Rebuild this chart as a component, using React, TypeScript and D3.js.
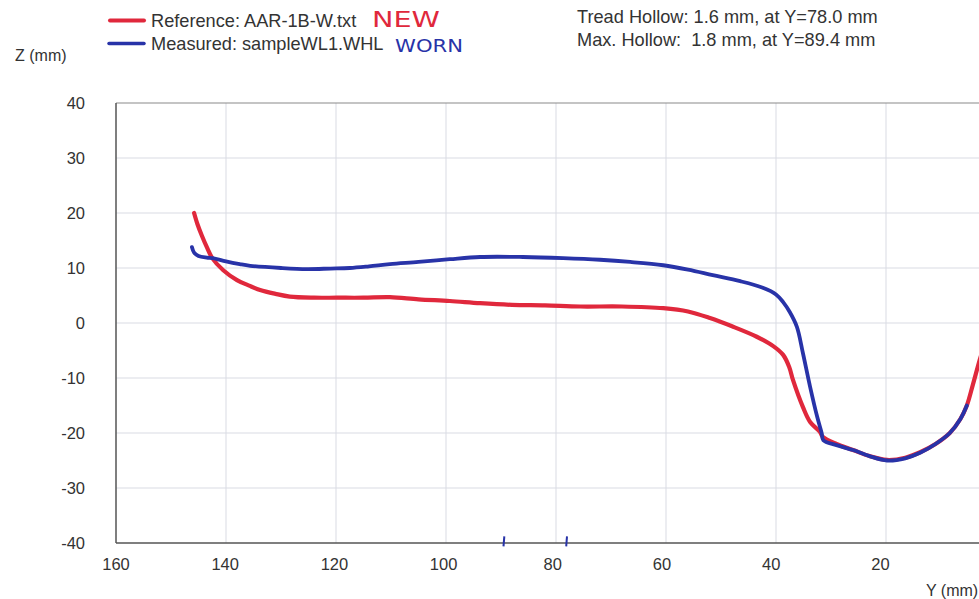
import React from "react";
import * as d3 from "d3";

// Wheel profile cross-section: lateral position Y (mm) vs height Z (mm)
const referenceProfile: [number, number][] = [
  [145.8, 20], [145.2, 18.0], [144.4, 15.9], [143.4, 13.6], [142.5, 11.8], [140.5, 9.6],
  [138, 7.8], [135.8, 6.8], [133.8, 6.0], [131, 5.3], [128.4, 4.8], [124, 4.6],
  [119.8, 4.6], [115, 4.6], [110.2, 4.7], [105, 4.3], [99.3, 4.0], [93.8, 3.6],
  [88, 3.3], [82, 3.2], [75.6, 3.0], [68, 3.0], [60.5, 2.7], [56, 2.1], [52, 0.9],
  [48, -0.6], [43.5, -2.5], [40.5, -4.2], [38.7, -5.8], [37.6, -8], [36.9, -10.4],
  [35.1, -15.3], [33.8, -18], [32, -19.8], [31.5, -20.7], [29, -22], [26, -23.1],
  [23, -24.2], [19.8, -24.9], [16.5, -24.5], [13.8, -23.5], [11, -22], [8.4, -20],
  [6.5, -17.5], [5.3, -15], [4.2, -11.2], [3.1, -7.2], [2, -3.5], [1, 0.5],
];

const measuredProfile: [number, number][] = [
  [146.2, 13.8], [145.8, 12.8], [145, 12.2], [143.5, 11.9], [142.4, 11.8], [140, 11.2],
  [137.5, 10.7], [135.6, 10.4], [130, 10.0], [125.3, 9.8], [121, 9.9], [117.5, 10.0],
  [114, 10.3], [110.2, 10.7], [105, 11.1], [99.3, 11.6], [93.8, 12.0], [86, 12.0],
  [78.7, 11.8], [72, 11.5], [66.5, 11.1], [60.5, 10.5], [56, 9.7], [51.5, 8.7],
  [46.5, 7.6], [42.4, 6.4], [40, 5.2], [38.7, 3.8], [37.5, 2], [36.2, -0.7],
  [35.1, -5.5], [33.8, -11.6], [32.5, -17.1], [31.7, -20], [31.4, -21.3], [29, -22.2],
  [26, -23.1], [23, -24.2], [19.8, -25.0], [16.5, -24.6], [13.8, -23.6], [11, -22],
  [8.4, -20], [6.5, -17.5], [5.3, -15],
];

const hollowPositions = [89.4, 78.0];
const xTicks = [160, 140, 120, 100, 80, 60, 40, 20];
const yTicks = [40, 30, 20, 10, 0, -10, -20, -30, -40];
const legendLabels = ["Reference: AAR-1B-W.txt", "Measured: sampleWL1.WHL"];
const noteLabels = ["NEW", "WORN"];
const hollowLines = [
  "Tread Hollow: 1.6 mm, at Y=78.0 mm",
  "Max. Hollow:  1.8 mm, at Y=89.4 mm",
];

const W = 979;
const H = 599;
const RED = "#e0283c";
const BLUE = "#2833a8";
const FONT = "'Liberation Sans', Arial, sans-serif";

export default function App() {
  const x = d3.scaleLinear().domain([160, 0]).range([116, 996]);
  const y = d3.scaleLinear().domain([-40, 40]).range([543, 103]);
  const line = d3
    .line<[number, number]>()
    .x((d) => x(d[0]))
    .y((d) => y(d[1]))
    .curve(d3.curveCatmullRom.alpha(0.5));

  const [x0, x1] = x.range();
  const [yb, yt] = y.range();

  return (
    <svg
      width={W}
      height={H}
      style={{ position: "absolute", left: 0, top: 0, background: "#fff" }}
      fontFamily={FONT}
    >
      <defs>
        <clipPath id="plot">
          <rect x={x0} y={yt} width={x1 - x0} height={yb - yt} />
        </clipPath>
      </defs>

      {/* grid */}
      {xTicks.concat([0]).filter((t) => t !== 160).map((t) => (
        <line key={"gx" + t} x1={x(t)} x2={x(t)} y1={yt} y2={yb} stroke="#d9dbe3" strokeWidth={1} />
      ))}
      {yTicks.filter((t) => t !== 40 && t !== -40).map((t) => (
        <line key={"gy" + t} x1={x0} x2={x1} y1={y(t)} y2={y(t)} stroke="#d9dbe3" strokeWidth={1} />
      ))}

      {/* frame */}
      <line x1={x0} x2={x1} y1={yt} y2={yt} stroke="#8a8a8a" strokeWidth={1.2} />
      <line x1={x0} x2={x1} y1={yb} y2={yb} stroke="#555" strokeWidth={1.3} />
      <line x1={x0} x2={x0} y1={yt} y2={yb} stroke="#555" strokeWidth={1.5} />

      {/* tick labels */}
      {yTicks.map((t) => (
        <text key={"ty" + t} x={85} y={y(t)} dy="0.36em" textAnchor="end" fontSize={16.5} fill="#333">
          {t}
        </text>
      ))}
      {xTicks.map((t) => (
        <text key={"tx" + t} x={x(t) - (160 - t) * 0.04} y={570} textAnchor="middle" fontSize={16.5} fill="#333">
          {t}
        </text>
      ))}
      <text x={15} y={61} fontSize={16} fill="#333">Z (mm)</text>
      <text x={926} y={596} fontSize={16} fill="#333">Y (mm)</text>

      {/* profiles */}
      <g clipPath="url(#plot)" fill="none" strokeLinecap="round" strokeLinejoin="round">
        <path d={line(referenceProfile) ?? ""} stroke={RED} strokeWidth={4.2} />
        <path d={line(measuredProfile) ?? ""} stroke={BLUE} strokeWidth={3.8} />
      </g>

      {/* hollow position marks */}
      {hollowPositions.map((p) => (
        <line key={"h" + p} x1={x(p)} x2={x(p) - 0.8} y1={y(-38.8)} y2={y(-40.6)} stroke={BLUE} strokeWidth={2} />
      ))}

      {/* legend */}
      <line x1={110} x2={144} y1={20.5} y2={20.5} stroke={RED} strokeWidth={4} strokeLinecap="round" />
      <line x1={109} x2={144} y1={43.5} y2={43.5} stroke={BLUE} strokeWidth={3.5} strokeLinecap="round" />
      <text x={151} y={27} fontSize={18.2} fill="#333">{legendLabels[0]}</text>
      <text x={151} y={50} fontSize={18.2} fill="#333">{legendLabels[1]}</text>
      <text x={372} y={27} fontSize={22} fill={RED} fontFamily="'DejaVu Sans', sans-serif"
        textLength={68} lengthAdjust="spacingAndGlyphs">{noteLabels[0]}</text>
      <text x={395} y={52} fontSize={18} fill={BLUE} fontFamily="'DejaVu Sans', sans-serif"
        textLength={68} lengthAdjust="spacingAndGlyphs">{noteLabels[1]}</text>

      {/* hollow summary */}
      <text x={577} y={23} fontSize={18.2} fill="#333">{hollowLines[0]}</text>
      <text x={577} y={46} fontSize={18.2} fill="#333" style={{ whiteSpace: "pre" }}>{hollowLines[1]}</text>
    </svg>
  );
}
